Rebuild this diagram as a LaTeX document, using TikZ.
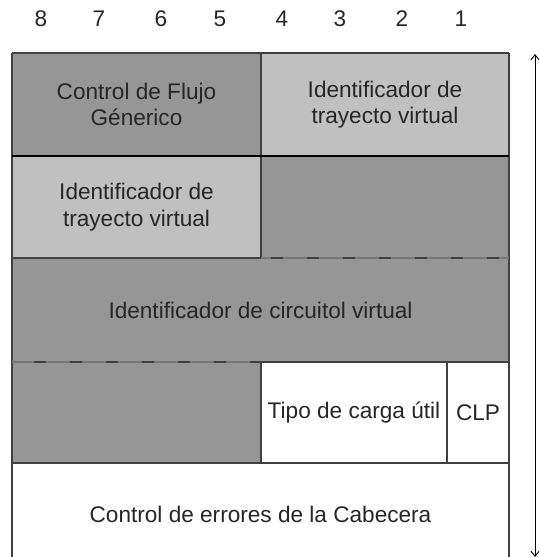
\documentclass[tikz,border=0pt]{standalone}
\usepackage{fontspec}
\setmainfont{Liberation Sans}
\usetikzlibrary{arrows.meta}
\definecolor{dkgray}{HTML}{969696}
\definecolor{ltgray}{HTML}{C0C0C0}
\definecolor{edge}{HTML}{404040}
\definecolor{dbase}{HTML}{767676}
\definecolor{txt}{HTML}{262626}
\newcommand{\cellfont}{\fontsize{22.6pt}{26.5pt}\selectfont}
\begin{document}
\begin{tikzpicture}[x=1pt,y=-1pt,
  cell/.style={inner sep=0pt, outer sep=0pt, align=center, font=\cellfont, text=txt, anchor=north west},
  numlbl/.style={font=\cellfont, text=txt, inner sep=0pt},
  rule/.style={draw=edge, line width=1.4pt},
  dashrule/.style={draw=black!75, line width=1.6pt, dash pattern=on 12pt off 24pt},
  dashbase/.style={draw=dbase, line width=1.4pt}]
\useasboundingbox (0,0) rectangle (540,557);
% header numbers
\foreach \n/\x in {8/41,7/99,6/161,5/220,4/282,3/340,2/402,1/461}
  \node[numlbl] (h\n) at (\x,19) {\n};
% row 1
\node[cell, fill=dkgray, minimum width=249pt, minimum height=103pt] (r1l) at (12,53) {Control de Flujo\\Génerico};
\node[cell, fill=ltgray, minimum width=248pt, minimum height=103pt] (r1r) at (261,53) {Identificador de\\trayecto virtual};
% row 2
\node[cell, fill=ltgray, minimum width=249pt, minimum height=102pt] (r2l) at (12,156) {Identificador de\\trayecto virtual};
\node[cell, fill=dkgray, minimum width=248pt, minimum height=102pt] (r2r) at (261,156) {};
% row 3
\node[cell, fill=dkgray, minimum width=497pt, minimum height=104pt] (r3) at (12,258) {Identificador de circuitol virtual};
% row 4
\node[cell, fill=dkgray, minimum width=249pt, minimum height=101pt] (r4l) at (12,362) {};
\node[cell, fill=white, minimum width=186pt, minimum height=101pt] (r4m) at (261,362) {Tipo de carga útil};
\node[cell, fill=white, minimum width=62pt, minimum height=101pt] (r4r) at (447,362) {CLP};
% row 5
\node[cell, fill=white, minimum width=497pt, minimum height=102pt] (r5) at (12,463) {Control de errores de la Cabecera};
% outer lines
\draw[rule] (r1l.north west) -- (r1r.north east);
\draw[rule] (r1l.north west) -- (r5.south west);
\draw[rule] (r1r.north east) -- (r5.south east);
% verticals
\draw[rule] (r1l.north east) -- (r2l.south east);
\draw[rule] (r4m.north west) -- (r4m.south west);
\draw[rule] (r4r.north west) -- (r4r.south west);
% horizontals
\draw[draw=black, line width=2.4pt] (r2l.north west) -- (r2r.north east);
\draw[rule] (r2l.south west) -- (r2l.south east);
\draw[dashbase] (r2r.south west) -- (r2r.south east);
\draw[dashrule, dash phase=-10pt] (r2r.south west) -- (r2r.south east);
\draw[dashbase] (r4l.north west) -- (r4l.north east);
\draw[dashrule, dash phase=-22pt] (r4l.north west) -- (r4l.north east);
\draw[rule] (r4m.north west) -- (r4r.north east);
\draw[rule] (r5.north west) -- (r5.north east);
% arrow
\coordinate (atop) at (535,54);
\coordinate (abot) at (535,557);
\draw[line width=0.9pt, {Straight Barb[length=5pt,width=8pt]}-{Straight Barb[length=5pt,width=8pt]}] (atop) -- (abot);
\end{tikzpicture}
\end{document}
